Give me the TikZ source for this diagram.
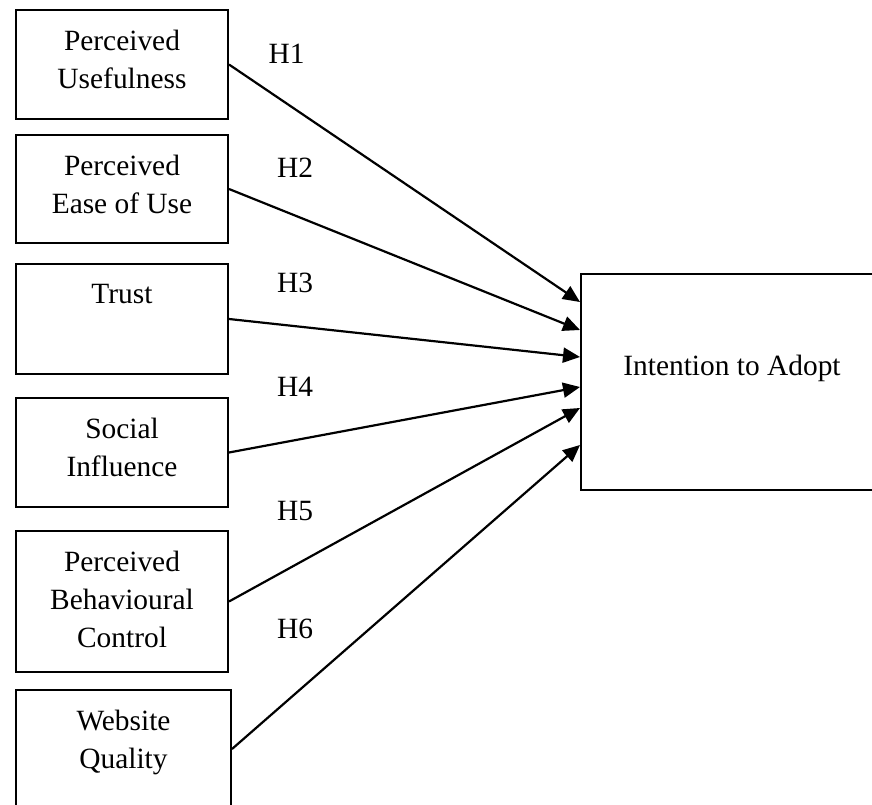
\documentclass[tikz,border=0pt]{standalone}
\usepackage{fontspec}
\setmainfont{Liberation Serif}
\usetikzlibrary{arrows.meta, positioning}
\tikzstyle{arrow} = [line width=2.2pt, -{Triangle[length=17pt, width=15pt]}]
\tikzstyle{construct} = [rectangle, draw=black, line width=2pt, minimum width=212pt, inner sep=0pt]
\tikzstyle{inside} = [anchor=north, align=center, inner sep=0pt, yshift=-21pt]
\tikzstyle{outcometext} = [anchor=north, align=center, inner sep=0pt, yshift=-82pt]
\tikzstyle{hyp} = [inner sep=0pt]

\begin{document}
\begin{tikzpicture}[x=1pt, y=-1pt, font=\fontsize{29.4}{38}\selectfont]
\path[use as bounding box, clip] (0,0) rectangle (872,805);

% Placement of nodes
\node (useful) [construct, minimum height=109pt, label={[inside]north:Perceived\\Usefulness}] at (122,64.5) {};
\node (ease) [construct, minimum height=108pt, label={[inside]north:Perceived\\Ease of Use}] at (122,189) {};
\node (trust) [construct, minimum height=110pt, label={[inside]north:Trust}] at (122,319) {};
\node (social) [construct, minimum height=109pt, label={[inside]north:Social\\Influence}] at (122,452.5) {};
\node (control) [construct, minimum height=141pt, label={[inside]north:Perceived\\Behavioural\\Control}] at (122,601.5) {};
\node (website) [construct, minimum width=215pt, minimum height=118pt, label={[inside]north:Website\\Quality}] at (123.5,749) {};

\node (intent) [construct, minimum width=302pt, minimum height=216pt, label={[outcometext]north:Intention to Adopt}] at (732,382) {};

% Hypothesis labels
\node (h1) [hyp] at (286.5,54) {H1};
\node (h2) [hyp] at (295,167.5) {H2};
\node (h3) [hyp] at (295,283) {H3};
\node (h4) [hyp] at (295,387) {H4};
\node (h5) [hyp] at (295,511) {H5};
\node (h6) [hyp] at (295,629) {H6};

% Placement of edges
\draw [arrow] (useful.east) -- ([yshift=80pt]intent.west);
\draw [arrow] (ease.east) -- ([yshift=52pt]intent.west);
\draw [arrow] (trust.east) -- ([yshift=25pt]intent.west);
\draw [arrow] (social.east) -- ([yshift=-5pt]intent.west);
\draw [arrow] (control.east) -- ([yshift=-26pt]intent.west);
\draw [arrow] (website.east) -- ([yshift=-63pt]intent.west);
\end{tikzpicture}
\end{document}
